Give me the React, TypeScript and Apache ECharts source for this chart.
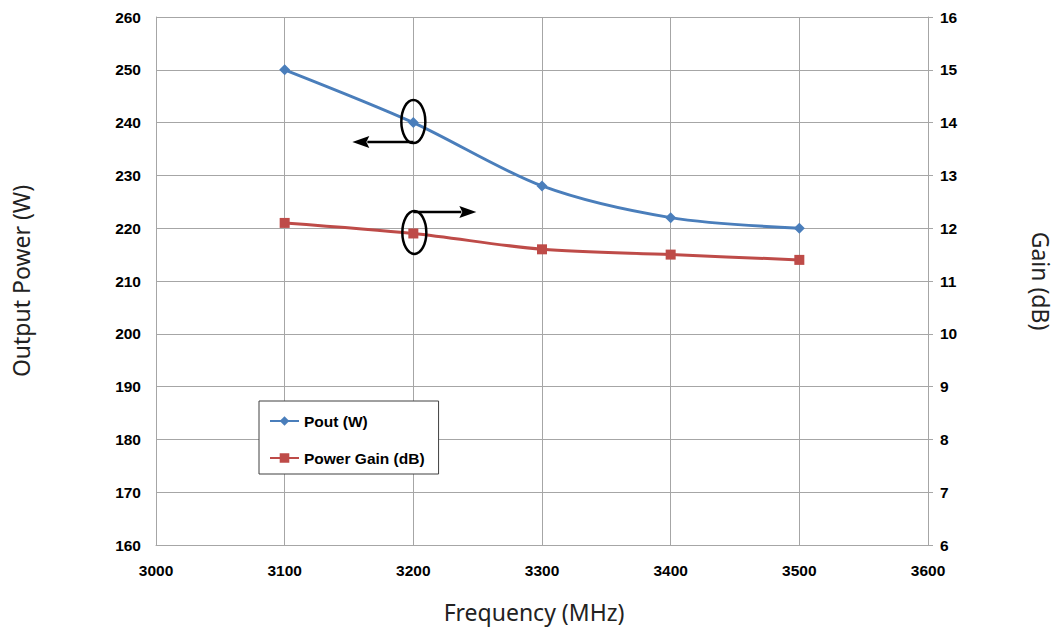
import React, { useEffect, useRef } from "react";
import * as echarts from "echarts";

const frequencies = [3100, 3200, 3300, 3400, 3500];
const poutW = [250, 240, 228, 222, 220];
const gainDb = [12.1, 11.9, 11.6, 11.5, 11.4];
const seriesNames = ["Pout (W)", "Power Gain (dB)"];
const xTitle = "Frequency (MHz)";
const yLeftTitle = "Output Power (W)";
const yRightTitle = "Gain (dB)";

export default function App() {
  const ref = useRef<HTMLDivElement>(null);
  useEffect(() => {
    if (!ref.current) return;
    const chart = echarts.init(ref.current, undefined, { renderer: "svg" });
    const labelStyle = { color: "#000", fontWeight: "bold" as const, fontSize: 15.5, fontFamily: "Liberation Sans, Arial, sans-serif" };
    const titleStyle = { color: "#222", fontSize: 23, fontFamily: "Noto Sans, sans-serif" };
    const gridLine = { show: true, lineStyle: { color: "#a6a6a6", width: 1 } };
    chart.setOption({
      animation: false,
      backgroundColor: "#fff",
      grid: { left: 156, right: 128, top: 17, bottom: 85, containLabel: false, outerBoundsMode: "none" },
      legend: {
        orient: "vertical",
        left: 259,
        top: 401,
        padding: [12, 14, 8, 10],
        itemGap: 21,
        itemWidth: 29,
        itemHeight: 12,
        borderColor: "#404040",
        borderWidth: 1,
        backgroundColor: "#fff",
        textStyle: { ...labelStyle, fontSize: 15.5 },
        data: seriesNames,
      },
      xAxis: {
        type: "value",
        min: 3000,
        max: 3600,
        interval: 100,
        name: xTitle,
        nameLocation: "middle",
        nameGap: 55,
        nameTextStyle: { ...titleStyle, padding: [0, 16, 0, 0] },
        axisLabel: { ...labelStyle, margin: 17, formatter: (v: number) => String(v) },
        axisLine: { show: true, lineStyle: { color: "#a6a6a6" } },
        axisTick: { show: false },
        splitLine: gridLine,
      },
      yAxis: [
        {
          type: "value",
          min: 160,
          max: 260,
          interval: 10,
          position: "left",
          name: yLeftTitle,
          nameLocation: "middle",
          nameGap: 124,
          nameTextStyle: titleStyle,
          axisLabel: { ...labelStyle, margin: 15 },
          axisLine: { show: true, lineStyle: { color: "#a6a6a6" } },
          axisTick: { show: false },
          splitLine: gridLine,
        },
        {
          type: "value",
          min: 6,
          max: 16,
          interval: 1,
          position: "right",
          name: yRightTitle,
          nameLocation: "middle",
          nameGap: 101,
          nameRotate: -90,
          nameTextStyle: titleStyle,
          axisLabel: { ...labelStyle, margin: 12 },
          axisLine: { show: true, lineStyle: { color: "#a6a6a6" } },
          axisTick: { show: true, length: 5, lineStyle: { color: "#a6a6a6" } },
          splitLine: { show: false },
        },
      ],
      series: [
        {
          name: seriesNames[0],
          type: "line",
          yAxisIndex: 0,
          smooth: 0.3,
          data: frequencies.map((f, i) => [f, poutW[i]]),
          symbol: "diamond",
          symbolSize: 11,
          lineStyle: { color: "#4a7ebb", width: 3 },
          itemStyle: { color: "#4a7ebb" },
        },
        {
          name: seriesNames[1],
          type: "line",
          yAxisIndex: 1,
          smooth: 0.3,
          data: frequencies.map((f, i) => [f, gainDb[i]]),
          symbol: "rect",
          symbolSize: 10,
          lineStyle: { color: "#be4b48", width: 3 },
          itemStyle: { color: "#be4b48" },
        },
      ],
    });

    const p1 = chart.convertToPixel({ xAxisIndex: 0, yAxisIndex: 0 } as any, [frequencies[1], poutW[1]]) as number[];
    const p2 = chart.convertToPixel({ xAxisIndex: 0, yAxisIndex: 1 } as any, [frequencies[1], gainDb[1]]) as number[];
    const stroke = { stroke: "#000", lineWidth: 2.5, fill: "none" };
    const ex = 12, ey = 21.5;
    chart.setOption({
      graphic: [
        { type: "ellipse", shape: { cx: p1[0], cy: p1[1] - 1, rx: ex, ry: ey }, style: stroke, z: 100 },
        { type: "line", shape: { x1: p1[0], y1: p1[1] + 19.5, x2: p1[0] - 46, y2: p1[1] + 19.5 }, style: { stroke: "#000", lineWidth: 2.5 }, z: 100 },
        { type: "polygon", shape: { points: [[p1[0] - 61, p1[1] + 19.5], [p1[0] - 44, p1[1] + 13.5], [p1[0] - 47, p1[1] + 19.5], [p1[0] - 44, p1[1] + 25.5]] }, style: { fill: "#000" }, z: 100 },
        { type: "ellipse", shape: { cx: p2[0] + 1, cy: p2[1] - 1, rx: ex, ry: ey }, style: stroke, z: 100 },
        { type: "line", shape: { x1: p2[0], y1: p2[1] - 21.5, x2: p2[0] + 48, y2: p2[1] - 21.5 }, style: { stroke: "#000", lineWidth: 2.5 }, z: 100 },
        { type: "polygon", shape: { points: [[p2[0] + 63, p2[1] - 21.5], [p2[0] + 46, p2[1] - 27.5], [p2[0] + 49, p2[1] - 21.5], [p2[0] + 46, p2[1] - 15.5]] }, style: { fill: "#000" }, z: 100 },
      ],
    });
    return () => chart.dispose();
  }, []);
  return <div ref={ref} style={{ width: 1056, height: 630, position: "absolute", left: 0, top: 0 }} />;
}
